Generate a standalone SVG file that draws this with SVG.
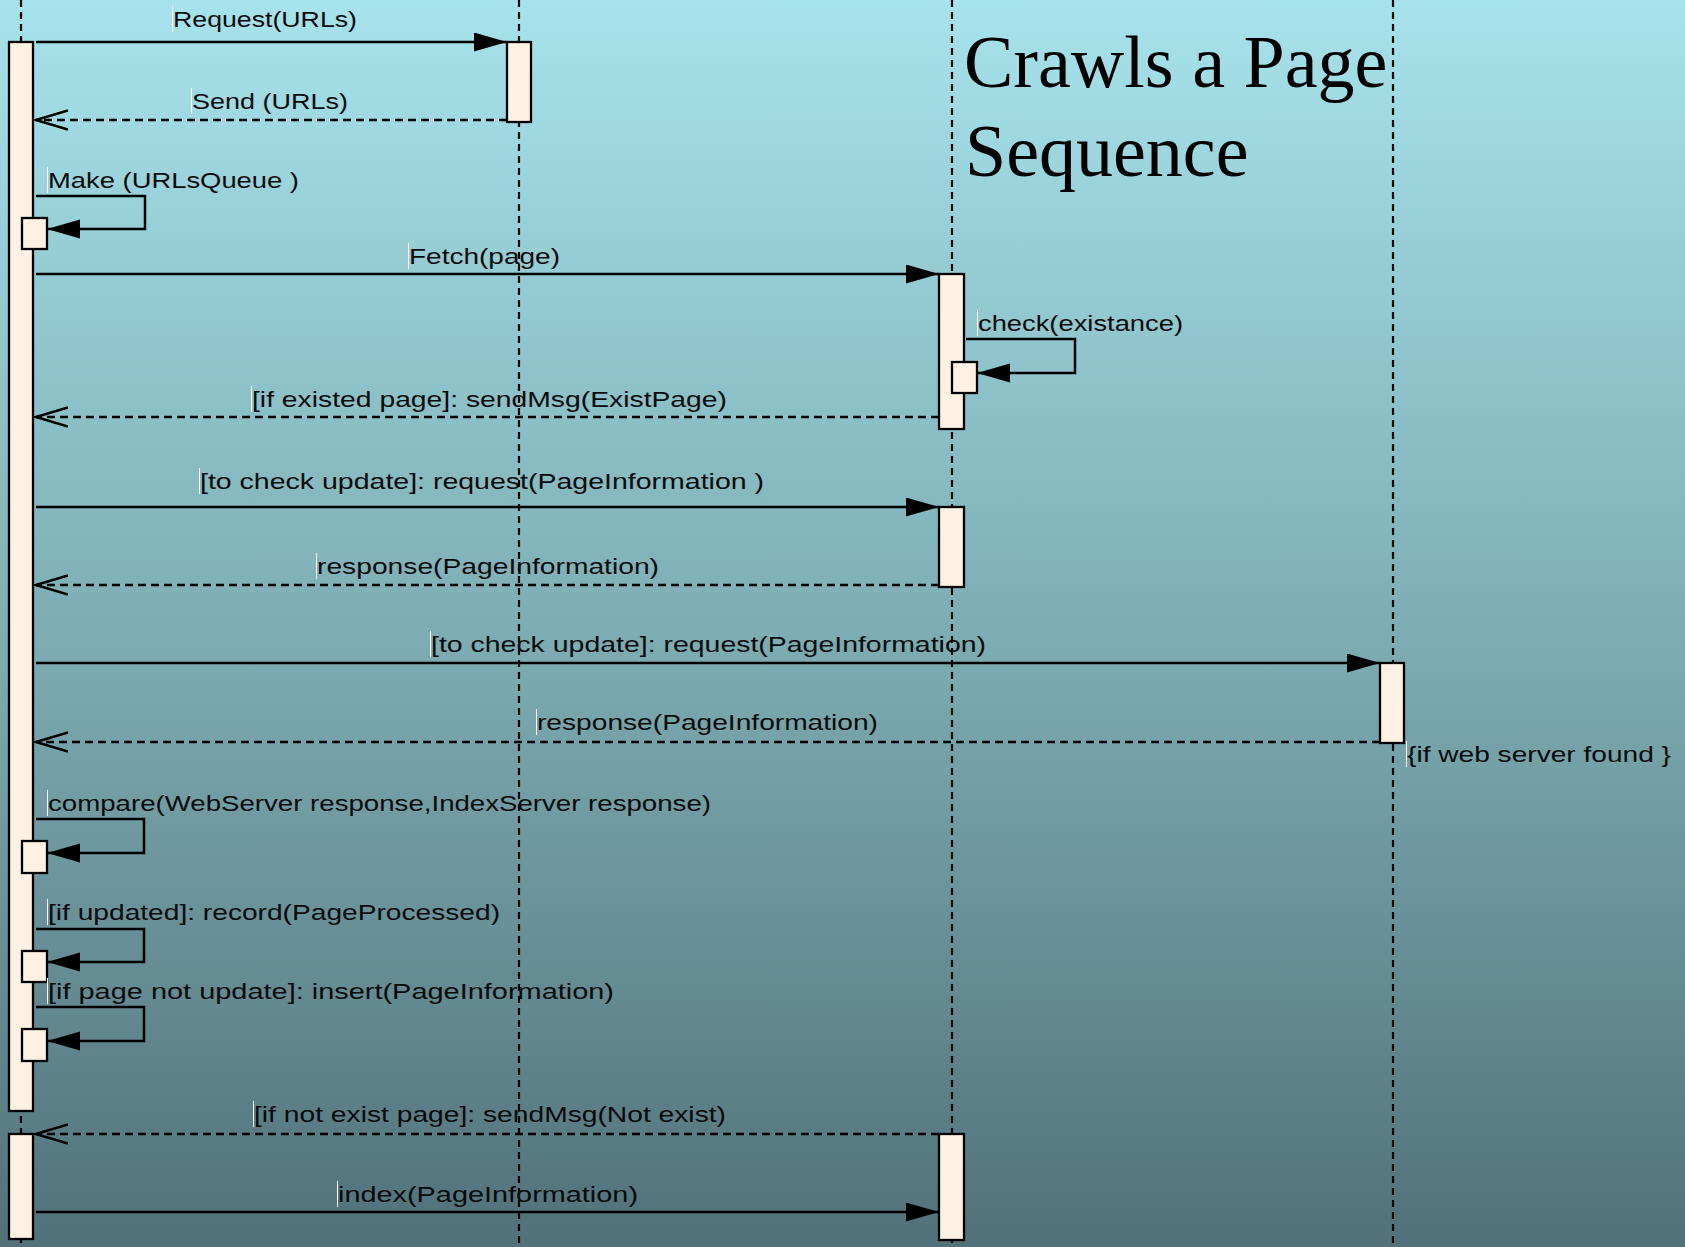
<svg xmlns="http://www.w3.org/2000/svg" width="1685" height="1247" viewBox="0 0 1685 1247">
<defs>
<linearGradient id="bg" x1="0" y1="0" x2="0" y2="1">
<stop offset="0" stop-color="#a7e3ec"/>
<stop offset="0.5" stop-color="#7eaeb5"/>
<stop offset="1" stop-color="#52717a"/>
</linearGradient>
<marker id="filled" markerUnits="userSpaceOnUse" markerWidth="34" markerHeight="20" refX="33" refY="9.5" orient="auto">
<path d="M0,0 L33,9.5 L0,19 z" fill="#000" stroke="none"/>
</marker>
<marker id="open" markerUnits="userSpaceOnUse" markerWidth="34" markerHeight="22" refX="32" refY="10.5" orient="auto">
<path d="M0,1 L32,10.5 L0,20" fill="none" stroke="#000" stroke-width="2.5"/>
</marker>
</defs>
<style>
.life{stroke:#000;stroke-width:2.2;stroke-dasharray:7 5;fill:none}
.act{fill:#fdf1e3;stroke:#000;stroke-width:2.3}
.call{fill:none;stroke:#000;stroke-width:2.5;marker-end:url(#filled)}
.ret{fill:none;stroke:#000;stroke-width:2.5;stroke-dasharray:8 5;marker-end:url(#open)}
.lbl{font-family:"Liberation Sans",Arial,sans-serif;font-size:22px;fill:#0a0a0a}
.cur{stroke:#fff;stroke-width:1}
.title{font-family:"Liberation Serif","Times New Roman",serif;font-size:74px;fill:#000}
</style>
<rect x="0" y="0" width="1685" height="1247" fill="url(#bg)"/>

<g id="lifeline-client">
<line class="life" x1="21" y1="0" x2="21" y2="1247"/>
<rect class="act" x="9" y="42" width="24" height="1069"/>
<rect class="act" x="9" y="1134" width="24" height="105"/>
<rect class="act" x="22" y="218" width="25" height="31"/>
<rect class="act" x="22" y="841" width="25" height="32"/>
<rect class="act" x="22" y="951" width="25" height="31"/>
<rect class="act" x="22" y="1029" width="25" height="32"/>
</g>
<g id="lifeline-urls">
<line class="life" x1="519" y1="0" x2="519" y2="1247"/>
<rect class="act" x="507" y="42" width="24" height="80"/>
</g>
<g id="lifeline-index">
<line class="life" x1="952" y1="0" x2="952" y2="1247"/>
<rect class="act" x="939" y="274" width="25" height="155"/>
<rect class="act" x="952" y="362" width="25" height="31"/>
<rect class="act" x="939" y="507" width="25" height="80"/>
<rect class="act" x="939" y="1134" width="25" height="106"/>
</g>
<g id="lifeline-web">
<line class="life" x1="1393" y1="0" x2="1393" y2="1247"/>
<rect class="act" x="1380" y="663" width="24" height="80"/>
</g>

<g id="title">
<text class="title" x="964" y="87">Crawls a Page</text>
<text class="title" x="965" y="176">Sequence</text>
</g>

<g id="connectors">
<path class="call" d="M36,42 H507"/>
<path class="ret" d="M507,120 H36"/>
<path class="call" d="M36,196 H145 V229 H47"/>
<path class="call" d="M36,274 H939"/>
<path class="call" d="M966,339 H1075 V373 H977"/>
<path class="ret" d="M939,417 H36"/>
<path class="call" d="M36,507 H939"/>
<path class="ret" d="M939,585 H36"/>
<path class="call" d="M36,663 H1380"/>
<path class="ret" d="M1380,742 H36"/>
<path class="call" d="M36,819 H144 V853 H47"/>
<path class="call" d="M36,929 H144 V962 H47"/>
<path class="call" d="M36,1007 H144 V1041 H47"/>
<path class="ret" d="M939,1134 H36"/>
<path class="call" d="M36,1212 H939"/>
</g>

<g id="labels">
<line class="cur" x1="172.5" y1="6" x2="172.5" y2="32"/>
<text class="lbl" x="173" y="27" textLength="184" lengthAdjust="spacingAndGlyphs">Request(URLs)</text>
<line class="cur" x1="191.5" y1="88" x2="191.5" y2="114"/>
<text class="lbl" x="192" y="109" textLength="156" lengthAdjust="spacingAndGlyphs">Send (URLs)</text>
<line class="cur" x1="47.5" y1="167" x2="47.5" y2="193"/>
<text class="lbl" x="48" y="188" textLength="251" lengthAdjust="spacingAndGlyphs">Make (URLsQueue )</text>
<line class="cur" x1="408.5" y1="243" x2="408.5" y2="269"/>
<text class="lbl" x="409" y="264" textLength="151" lengthAdjust="spacingAndGlyphs">Fetch(page)</text>
<line class="cur" x1="977.5" y1="310" x2="977.5" y2="336"/>
<text class="lbl" x="978" y="331" textLength="205" lengthAdjust="spacingAndGlyphs">check(existance)</text>
<line class="cur" x1="251.5" y1="386" x2="251.5" y2="412"/>
<text class="lbl" x="252" y="407" textLength="475" lengthAdjust="spacingAndGlyphs">[if existed page]: sendMsg(ExistPage)</text>
<line class="cur" x1="199.5" y1="468" x2="199.5" y2="494"/>
<text class="lbl" x="200" y="489" textLength="564" lengthAdjust="spacingAndGlyphs">[to check update]: request(PageInformation )</text>
<line class="cur" x1="316.5" y1="553" x2="316.5" y2="579"/>
<text class="lbl" x="317" y="574" textLength="342" lengthAdjust="spacingAndGlyphs">response(PageInformation)</text>
<line class="cur" x1="430.5" y1="631" x2="430.5" y2="657"/>
<text class="lbl" x="431" y="652" textLength="555" lengthAdjust="spacingAndGlyphs">[to check update]: request(PageInformation)</text>
<line class="cur" x1="536.5" y1="709" x2="536.5" y2="735"/>
<text class="lbl" x="537" y="730" textLength="341" lengthAdjust="spacingAndGlyphs">response(PageInformation)</text>
<line class="cur" x1="1406.5" y1="741" x2="1406.5" y2="767"/>
<text class="lbl" x="1407" y="762" textLength="264" lengthAdjust="spacingAndGlyphs">{if web server found }</text>
<line class="cur" x1="47.5" y1="790" x2="47.5" y2="816"/>
<text class="lbl" x="48" y="811" textLength="663" lengthAdjust="spacingAndGlyphs">compare(WebServer response,IndexServer response)</text>
<line class="cur" x1="47.5" y1="899" x2="47.5" y2="925"/>
<text class="lbl" x="48" y="920" textLength="452" lengthAdjust="spacingAndGlyphs">[if updated]: record(PageProcessed)</text>
<line class="cur" x1="47.5" y1="978" x2="47.5" y2="1004"/>
<text class="lbl" x="48" y="999" textLength="566" lengthAdjust="spacingAndGlyphs">[if page not update]: insert(PageInformation)</text>
<line class="cur" x1="253.5" y1="1101" x2="253.5" y2="1127"/>
<text class="lbl" x="254" y="1122" textLength="472" lengthAdjust="spacingAndGlyphs">[if not exist page]: sendMsg(Not exist)</text>
<line class="cur" x1="337.5" y1="1181" x2="337.5" y2="1207"/>
<text class="lbl" x="338" y="1202" textLength="300" lengthAdjust="spacingAndGlyphs">index(PageInformation)</text>
</g>
</svg>
